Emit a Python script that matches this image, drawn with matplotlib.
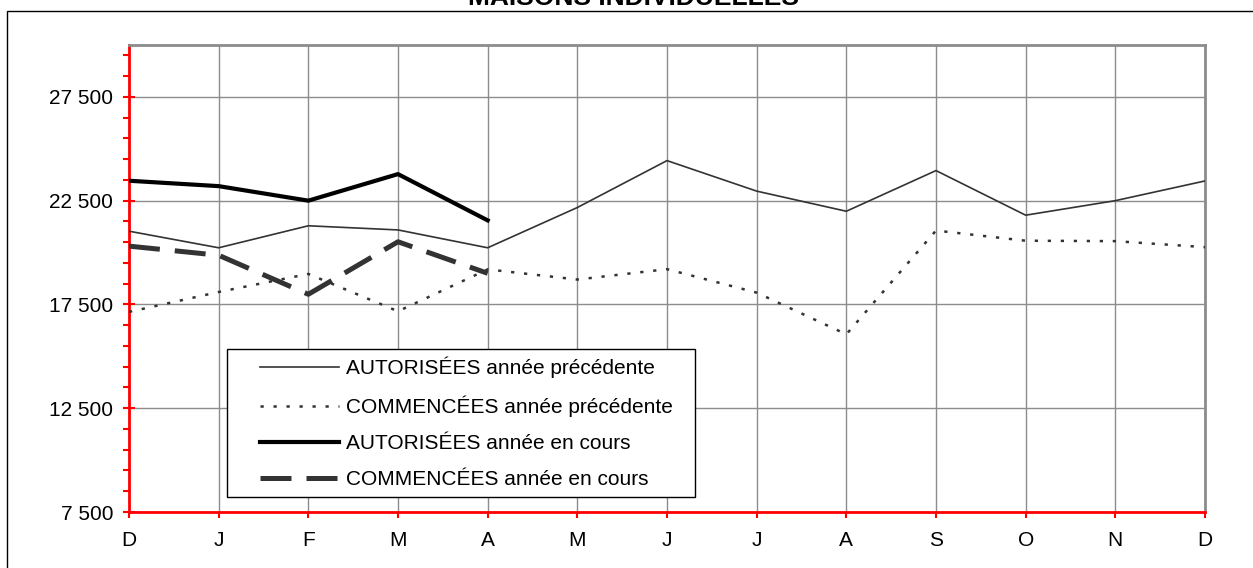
import matplotlib
matplotlib.use("Agg")
import numpy as np
import matplotlib.pyplot as plt
from matplotlib.ticker import FixedLocator, FuncFormatter
from matplotlib.patches import Rectangle
from matplotlib.legend_handler import HandlerLine2D

plt.rcParams['font.family'] = ['Liberation Sans', 'DejaVu Sans']

months = ["D", "J", "F", "M", "A", "M", "J", "J", "A", "S", "O", "N", "D"]
aut_prev = [21030, 20230, 21290, 21090, 20230, 22170, 24430, 22960, 21990, 23950, 21800, 22500, 23450]
comm_prev = [17140, 18100, 18970, 17170, 19190, 18700, 19200, 18070, 16060, 21060, 20570, 20550, 20260]
aut_cur = [23460, 23200, 22500, 23780, 21550]
comm_cur = [20310, 19870, 17990, 20520, 19000]

labels = ["AUTORISÉES année précédente", "COMMENCÉES année précédente",
          "AUTORISÉES année en cours", "COMMENCÉES année en cours"]
y_ticks = [7500, 12500, 17500, 22500, 27500]
title = "MAISONS INDIVIDUELLES"

W, H = 1253, 568
fig = plt.figure(figsize=(W / 100, H / 100), dpi=100)
ax = fig.add_axes([129 / W, 1 - 512 / H, (1205 - 129) / W, (512 - 45) / H])

x = list(range(len(months)))
ax.plot(x, aut_prev, color="#333333", lw=1.2, label=labels[0], zorder=3)
ax.plot(x, comm_prev, color="#333333", lw=1.8, linestyle=(0, (1.3, 3.9)), label=labels[1], zorder=3)
ax.plot(x[:len(aut_cur)], aut_cur, color="black", lw=3.0, label=labels[2], zorder=4)
ax.plot(x[:len(comm_cur)], comm_cur, color="#333333", lw=3.6, linestyle=(0, (6.2, 3.0)), label=labels[3], zorder=4)

ax.set_xlim(0, len(months) - 1)
ax.set_ylim(7500, 30000)
ax.set_xticks(x)
ax.set_xticklabels(months)
ax.yaxis.set_major_locator(FixedLocator(y_ticks))
ax.yaxis.set_minor_locator(FixedLocator([v for v in range(8500, 30000, 1000) if (v - 7500) % 5000]))
ax.yaxis.set_major_formatter(FuncFormatter(lambda v, p: f"{int(v):,}".replace(",", " ")))

ax.grid(True, which="major", color="#8c8c8c", lw=1.0)
ax.set_axisbelow(True)

for s in ["left", "bottom"]:
    ax.spines[s].set_color("red")
    ax.spines[s].set_linewidth(2.0)
for s in ["top", "right"]:
    ax.spines[s].set_color("#8c8c8c")
    ax.spines[s].set_linewidth(2.0)

ax.tick_params(axis="y", which="major", direction="inout", length=9, width=1.5, color="red",
               labelsize=15, pad=7)
ax.tick_params(axis="y", which="minor", direction="out", length=4, width=1.5, color="red")
ax.tick_params(axis="x", which="major", direction="out", length=4, width=1.5, color="red",
               labelsize=15, pad=10)


class LeadHandler(HandlerLine2D):
    """Line handle that leaves blank space on its left side."""
    def __init__(self, lead_px, **kw):
        super().__init__(**kw)
        self.lead_px = lead_px

    def get_xdata(self, legend, xdescent, ydescent, width, height, fontsize):
        lead = self.lead_px * 72.0 / 100.0
        xdata = np.array([-xdescent + lead, -xdescent + width])
        return xdata, np.array([-xdescent + 0.5 * width])


handles, labs = ax.get_legend_handles_labels()
x0 = (227 - 129) / 1076
y0 = (512 - 496.7) / 467
wl = (695 - 227) / 1076
leg = ax.legend(handles, labs, loc="lower left", bbox_to_anchor=(x0, y0, wl, 0.3),
                mode="expand", borderaxespad=0, fontsize=15, frameon=True, fancybox=False,
                framealpha=1, edgecolor="black", handlelength=5.03, handletextpad=0.34,
                labelspacing=0.83, borderpad=0.35,
                handler_map={h: LeadHandler(25.7) for h in handles})
leg.get_frame().set_linewidth(1.0)
leg.set_zorder(10)

fig.patches.append(Rectangle((7 / W, -0.01), 1.0, 1 - 11 / H + 0.01, transform=fig.transFigure,
                             fill=False, edgecolor="black", lw=1.0))
fig.text(633 / W, 1 - 5 / H, title, ha="center", va="baseline", fontsize=19, fontweight="bold")

fig.savefig("out.png", dpi=100)
